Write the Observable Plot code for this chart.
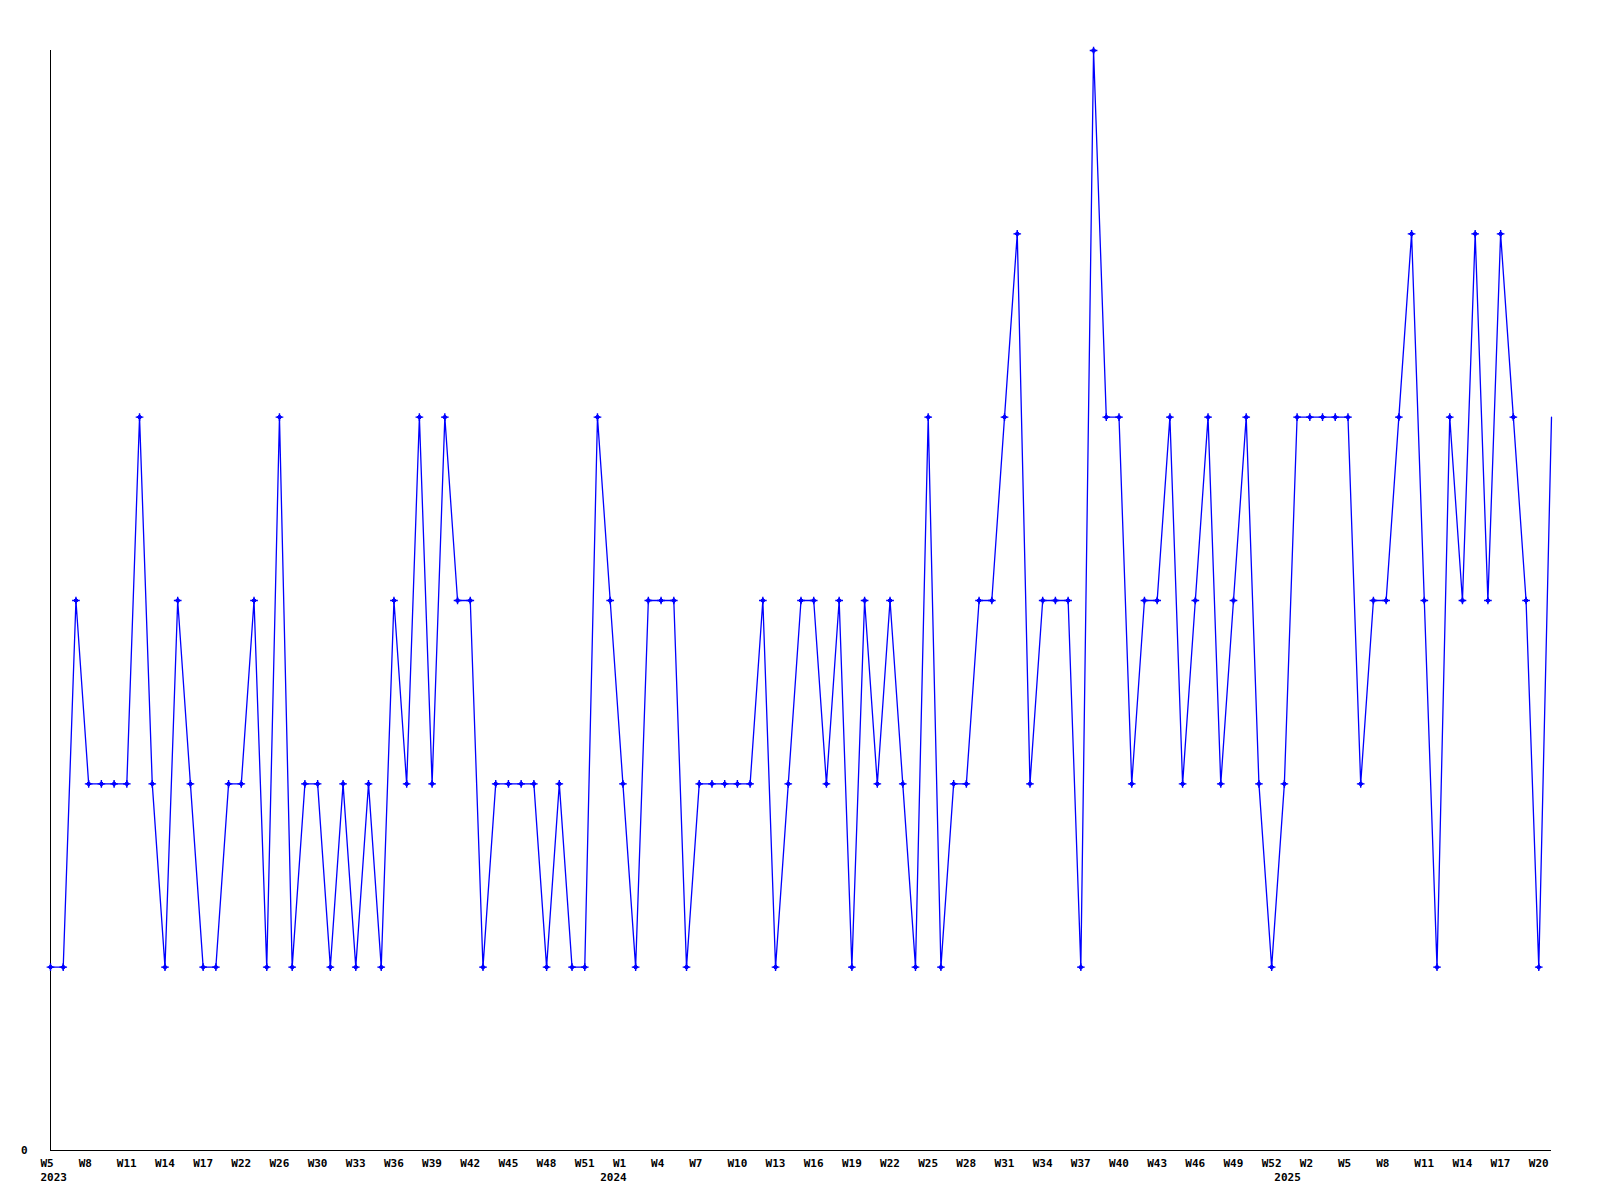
<!DOCTYPE html>
<html><head><meta charset="utf-8">
<script src="https://cdn.jsdelivr.net/npm/d3@7"></script>
<script src="https://cdn.jsdelivr.net/npm/@observablehq/plot@0.6"></script>
<style>html,body{margin:0;padding:0;background:#fff}</style>
</head><body><div id="chart"></div>
<script>
// weekly values, one per point (119 points, evenly spaced)
const values = [
  1,1,3,2,2,2,2,4,2,1,3,2,1,1,2,2,3,1,4,1,
  2,2,1,2,1,2,1,3,2,4,2,4,3,3,1,2,2,2,2,1,
  2,1,1,4,3,2,1,3,3,3,1,2,2,2,2,2,3,1,2,3,
  3,2,3,1,3,2,3,2,1,4,1,2,2,3,3,4,5,2,3,3,
  3,1,6,4,4,2,3,3,4,2,3,4,2,3,4,2,1,2,4,4,
  4,4,4,2,3,3,4,5,3,1,4,3,5,3,5,4,3,1,4
];
// x tick labels, one every 3 points
const tickLabels = [
  "W5","W8","W11","W14","W17","W22","W26","W30","W33","W36","W39","W42","W45","W48","W51",
  "W1","W4","W7","W10","W13","W16","W19","W22","W25","W28","W31","W34","W37","W40","W43","W46","W49","W52",
  "W2","W5","W8","W11","W14","W17","W20"
];
const tickStep = 3;
const yearLabels = ["2023","2024","2025"];
const yearIndex = [0,44,97];
const yTicks = [0];

const data = values.map((v,i) => ({i, v}));
const ticks = tickLabels.map((t,k) => ({i: k*tickStep, t}));
const years = yearLabels.map((t,k) => ({i: yearIndex[k], t}));

const font = {fontFamily: "'DejaVu Sans Mono', monospace", fontWeight: "bold", fontSize: 11, fill: "#000"};

const chart = Plot.plot({
  width: 1600, height: 1200,
  marginLeft: 50, marginRight: 49, marginTop: 50, marginBottom: 50,
  x: {domain: [0, values.length - 1], axis: null},
  y: {domain: [0, d3.max(values)], axis: null},
  style: {background: "#fff"},
  marks: [
    Plot.ruleX([0], {stroke: "#000", strokeWidth: 1}),
    Plot.ruleY([0], {stroke: "#000", strokeWidth: 1}),
    Plot.line(data, {x: "i", y: "v", stroke: "#0000ff", strokeWidth: 1.3}),
    Plot.dot(data.slice(0, -1), {x: "i", y: "v", symbol: "diamond2", r: 2.2, stroke: "#0000ff", fill: "#0000ff", strokeWidth: 1}),
    Plot.dot(data.slice(0, -1), {x: "i", y: "v", symbol: "plus", r: 2.6, stroke: "#0000ff", strokeWidth: 1.4}),
    Plot.text(ticks, {x: "i", y: () => 0, text: "t", textAnchor: "start", dx: -10, dy: 13, ...font}),
    Plot.text(years, {x: "i", y: () => 0, text: "t", textAnchor: "start", dx: -10, dy: 27, ...font}),
    Plot.text(yTicks, {x: () => 0, y: d => d, text: d => String(d), textAnchor: "end", dx: -23, ...font})
  ]
});
document.getElementById("chart").append(chart);
</script>
</body></html>
